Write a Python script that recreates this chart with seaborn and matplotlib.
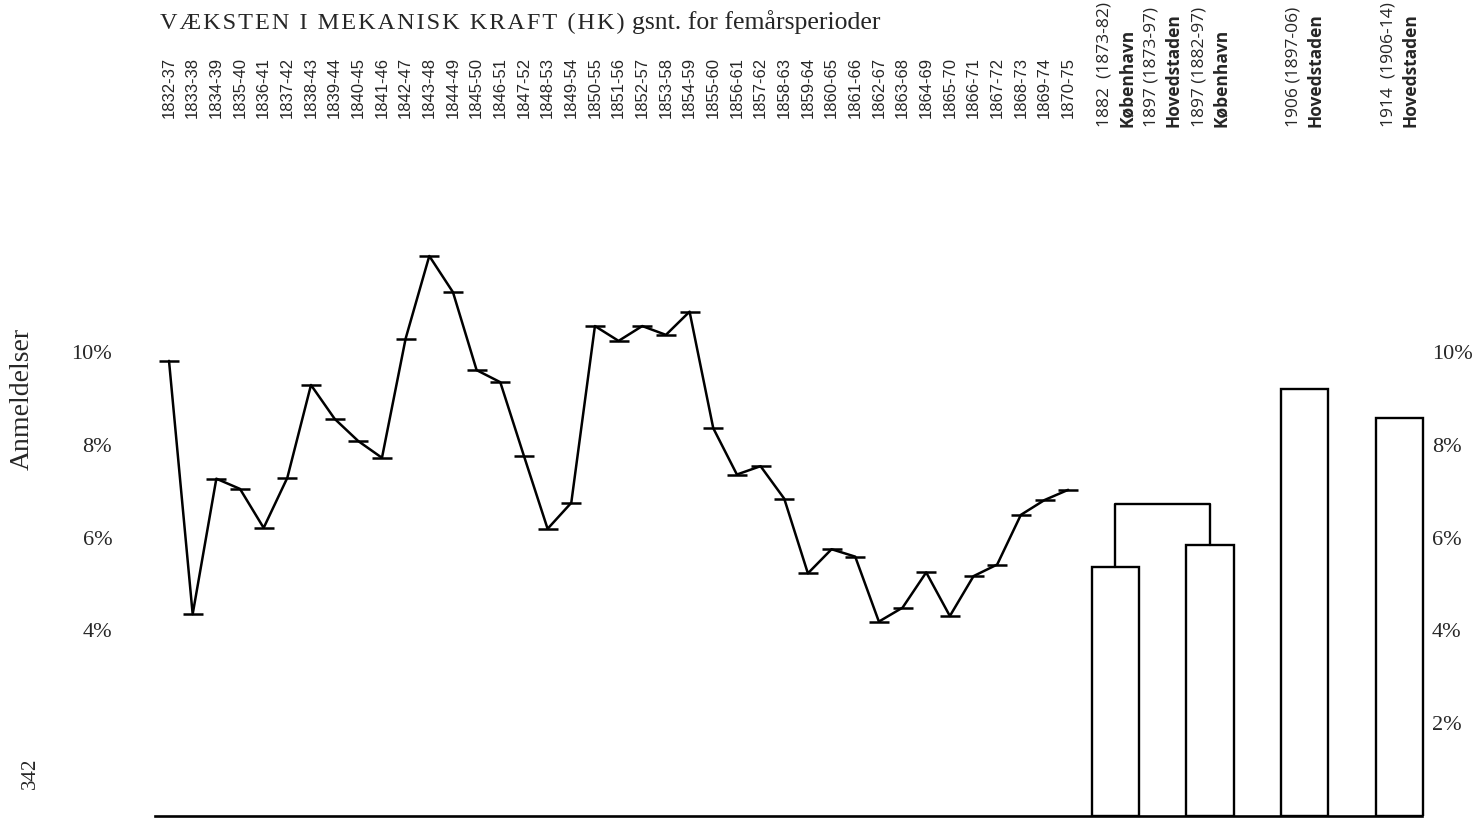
import matplotlib
matplotlib.use("Agg")
import matplotlib.pyplot as plt
import numpy as np
import pandas as pd
import seaborn as sns

# five-year moving averages, 1832-37 .. 1870-75
periods = ["1832-37", "1833-38", "1834-39", "1835-40", "1836-41", "1837-42",
           "1838-43", "1839-44", "1840-45", "1841-46", "1842-47", "1843-48",
           "1844-49", "1845-50", "1846-51", "1847-52", "1848-53", "1849-54",
           "1850-55", "1851-56", "1852-57", "1853-58", "1854-59", "1855-60",
           "1856-61", "1857-62", "1858-63", "1859-64", "1860-65", "1861-66",
           "1862-67", "1863-68", "1864-69", "1865-70", "1866-71", "1867-72",
           "1868-73", "1869-74", "1870-75"]
line_values = [9.81, 4.35, 7.27, 7.05, 6.21, 7.29, 9.29, 8.56, 8.08, 7.72,
               10.29, 12.07, 11.29, 9.61, 9.35, 7.76, 6.19, 6.75, 10.56, 10.24,
               10.56, 10.37, 10.87, 8.36, 7.36, 7.54, 6.84, 5.23, 5.75, 5.59,
               4.19, 4.49, 5.25, 4.31, 5.17, 5.42, 6.49, 6.81, 7.03]

# later single-year figures drawn as bars
bar_labels = ["1882  (1873-82)\nKøbenhavn", "1897 (1882-97)\nKøbenhavn",
              "1906 (1897-06)\nHovedstaden", "1914  (1906-14)\nHovedstaden"]
bar_values = [5.37, 5.85, 9.20, 8.57]
bracket_label = "1897 (1873-97)\nHovedstaden"
bracket_value = 6.72

left_ticks = [4, 6, 8, 10]
right_ticks = [2, 4, 6, 8, 10]

sns.set_style("white")
plt.rcParams["font.family"] = ["Liberation Serif", "DejaVu Serif"]

fig = plt.figure(figsize=(14.76, 8.27), dpi=100)
ax = fig.add_axes([140 / 1476, 11 / 827, 1285 / 1476, 584.6 / 827])

n = len(periods)
line_df = pd.DataFrame({"pos": np.arange(n), "val": line_values})
sns.lineplot(data=line_df, x="pos", y="val", ax=ax, color="black",
             linewidth=1.8, marker="_", markersize=15, markeredgewidth=1.8,
             markeredgecolor="black")

bar_pos = [n + 1 + 4 * i for i in range(len(bar_values))]
bar_df = pd.DataFrame({"pos": bar_pos, "val": bar_values})
sns.barplot(data=bar_df, x="pos", y="val", ax=ax, native_scale=True,
            width=0.5, color="white", edgecolor="black", linewidth=1.7,
            errorbar=None, saturation=1)

# bracket joining the two København bars
ax.plot([bar_pos[0], bar_pos[0], bar_pos[1], bar_pos[1]],
        [bar_values[0], bracket_value, bracket_value, bar_values[1]],
        color="black", lw=1.7)

ax.set_xlim(-1.226, 53.08)
ax.set_ylim(0, 12.6)
ax.set_xticks([])
ax.set_xlabel("")
ax.set_ylabel("")
ax.set_yticks(left_ticks)
ax.set_yticklabels([f"{t}%" for t in left_ticks])
ax.tick_params(axis="y", length=0, pad=20, labelsize=16)
for s in ["left", "top", "right"]:
    ax.spines[s].set_visible(False)
ax.spines["bottom"].set_bounds(-0.59, 52.96)
ax.spines["bottom"].set_linewidth(1.9)
ax.spines["bottom"].set_color("black")

ax2 = ax.twinx()
ax2.set_ylim(ax.get_ylim())
ax2.set_yticks(right_ticks)
ax2.set_yticklabels([f"{t}%" for t in right_ticks])
ax2.tick_params(axis="y", length=0, pad=5, labelsize=16)
for s in ax2.spines.values():
    s.set_visible(False)

# period labels along the top
tr = ax.get_xaxis_transform()
for i, lab in enumerate(periods):
    ax.text(i, 1.194, lab, transform=tr, rotation=90, ha="center",
            va="bottom", fontsize=12, family=["Liberation Sans", "DejaVu Sans"])

top_pos = [bar_pos[0], (bar_pos[0] + bar_pos[1]) / 2, bar_pos[1], bar_pos[2], bar_pos[3]]
top_labels = [bar_labels[0], bracket_label, bar_labels[1], bar_labels[2], bar_labels[3]]
for p, lab in zip(top_pos, top_labels):
    first, second = lab.split("\n")
    ax.text(p - 0.47, 1.1786, first, transform=tr, rotation=90, ha="center",
            va="bottom", fontsize=12.5, family=["Open Sans", "DejaVu Sans"])
    ax.text(p + 0.47, 1.1786, second, transform=tr, rotation=90, ha="center",
            va="bottom", fontsize=12.5, fontweight="bold",
            family=["Open Sans", "DejaVu Sans"])

title_caps = "VÆKSTEN I MEKANISK KRAFT (HK)"
fig.text(160 / 1476, 1 - 29 / 827, "\u200a".join(title_caps), fontsize=17.5,
         va="baseline", ha="left")
fig.text(632 / 1476, 1 - 29 / 827, "gsnt. for femårsperioder", fontsize=18.5,
         va="baseline", ha="left")

fig.text(22 / 1476, 1 - 399 / 827, "Anmeldelser", rotation=90, fontsize=20,
         ha="center", va="center")
fig.text(30 / 1476, 1 - 773 / 827, "342", rotation=90, fontsize=15,
         ha="center", va="center")

fig.savefig("out.png", dpi=100)
